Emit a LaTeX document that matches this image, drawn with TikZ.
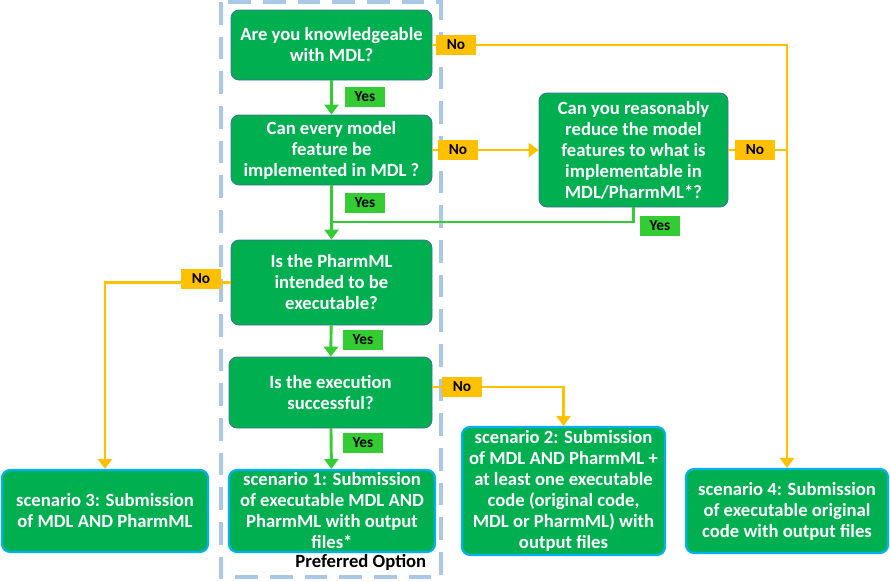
\documentclass[tikz,border=0pt]{standalone}
\usepackage{fontspec}
\setmainfont{Carlito}
\usetikzlibrary{arrows.meta}
\definecolor{boxgreen}{HTML}{00B050}
\definecolor{qborder}{HTML}{41719C}
\definecolor{sborder}{HTML}{00B0F0}
\definecolor{yesgreen}{HTML}{33CC33}
\definecolor{noorange}{HTML}{FFC000}
\definecolor{dashblue}{HTML}{A9C8E8}
\tikzset{
  qbox/.style={rectangle, rounded corners=6pt, fill=boxgreen, draw=qborder, line width=0.6pt,
    text=white, font=\bfseries\fontsize{14}{15.75}\selectfont, align=center, inner sep=0pt},
  sbox/.style={qbox, draw=sborder, line width=1.6pt},
  yeslbl/.style={rectangle, fill=yesgreen, font=\bfseries\fontsize{11.5}{12}\selectfont, text=black,
    minimum width=30pt, minimum height=15pt, inner sep=0pt},
  nolbl/.style={yeslbl, fill=noorange},
  yesline/.style={draw=yesgreen, line width=2.2pt},
  noline/.style={draw=noorange, line width=2.2pt},
  tip/.style={-{Triangle[width=10.5pt,length=7.5pt]}}
}
\begin{document}
\begin{tikzpicture}[x=0.75pt,y=-0.75pt]
\useasboundingbox (0,0) rectangle (890,582);
% preferred option frame
\draw[dashblue, line width=3.2pt, dash pattern=on 17pt off 9pt] (221,2) rectangle (441,577);
\node[font=\bfseries\fontsize{14}{15}\selectfont, anchor=east] (pref) at (431,562) {Preferred Option};

% boxes
\node[qbox, minimum width=150.75pt, minimum height=52.5pt] (q1) at (331.5,45) {Are you knowledgeable\\with MDL?};
\node[qbox, minimum width=150.75pt, minimum height=52.5pt] (q2) at (331.5,150) {Can every model\\feature be\\implemented in MDL ?};
\node[qbox, minimum width=141.75pt, minimum height=85.5pt] (q3) at (633.5,150) {Can you reasonably\\reduce the model\\features to what is\\implementable in\\MDL/PharmML*?};
\node[qbox, minimum width=150.75pt, minimum height=63.75pt] (q4) at (331.5,282.5) {Is the PharmML\\intended to be\\executable?};
\node[qbox, minimum width=152.25pt, minimum height=53.25pt] (q5) at (330.5,392.5) {Is the execution\\successful?};
\node[sbox, minimum width=154.5pt, minimum height=61.5pt] (s3) at (105,511) {scenario 3: Submission\\of MDL AND PharmML};
\node[sbox, minimum width=154.5pt, minimum height=61.5pt] (s1) at (332,511) {scenario 1: Submission\\of executable MDL AND\\PharmML with output\\files*};
\node[sbox, minimum width=152.25pt, minimum height=96pt] (s2) at (563.5,491) {scenario 2: Submission\\of MDL AND PharmML +\\at least one executable\\code (original code,\\MDL or PharmML) with\\output files};
\node[sbox, minimum width=151.5pt, minimum height=63pt] (s4) at (787,511) {scenario 4: Submission\\of executable original\\code with output files};

% helper coordinates
\coordinate (j1) at (331.5,222);
\coordinate (c5) at (432,387);

% connectors
\draw[yesline, tip] (q1) -- (q2);
\draw[yesline, tip] (q2) -- (q4);
\draw[yesline] (q3.south) |- (j1);
\draw[yesline, tip] (q4) -- (q5);
\draw[yesline, tip] (q5) -- (s1);
\draw[noline, tip] (q1.east) -| (s4.north);
\draw[noline, tip] (q2.east) -- (q3.west);
\draw[noline] (q3.east) -- (q3.east -| s4.north);
\draw[noline, tip] (q4.west) -| (s3.north);
\draw[noline, tip] (c5) -| (s2.north);

% labels
\node[nolbl] (n1) at (456,45) {No};
\node[yeslbl] (y1) at (365,97) {Yes};
\node[nolbl] (n2) at (458,150) {No};
\node[nolbl] (n3) at (755,150) {No};
\node[yeslbl] (y2) at (365,203) {Yes};
\node[yeslbl] (y3) at (660,226) {Yes};
\node[nolbl] (n4) at (201,279) {No};
\node[yeslbl] (y4) at (363,340) {Yes};
\node[nolbl] (n5) at (462,387) {No};
\node[yeslbl] (y5) at (363,443) {Yes};
\end{tikzpicture}
\end{document}
